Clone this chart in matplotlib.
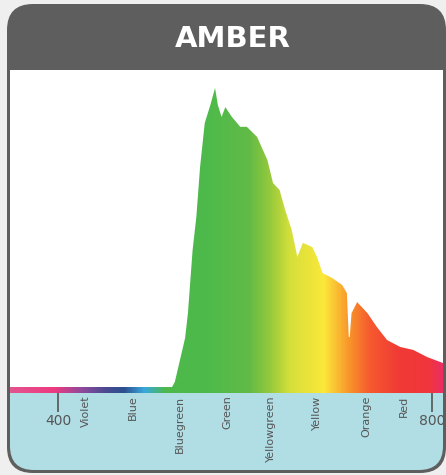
import matplotlib
matplotlib.use('Agg')
import matplotlib.pyplot as plt
import numpy as np
from matplotlib.colors import LinearSegmentedColormap
from matplotlib.patches import FancyBboxPatch, Polygon
import matplotlib.transforms as mtransforms

# spectrum (nm, relative intensity)
wavelength = [349, 522, 525, 536, 539, 544, 548, 552, 557, 563, 568, 571, 575, 579,
              586, 595, 602, 613, 624, 630, 637, 643, 650, 656, 662, 672, 677, 683,
              693, 704, 709, 711, 712, 714, 720, 731, 741, 752, 766, 780, 795, 812]
intensity = [0.0, 0.0, 0.017, 0.164, 0.247, 0.458, 0.569, 0.736, 0.883, 0.943, 1.0,
             0.943, 0.903, 0.936, 0.903, 0.870, 0.870, 0.836, 0.759, 0.682, 0.659,
             0.592, 0.525, 0.435, 0.482, 0.468, 0.435, 0.381, 0.365, 0.341, 0.314,
             0.167, 0.167, 0.247, 0.284, 0.247, 0.201, 0.157, 0.134, 0.124, 0.100, 0.080]

tick_values = [400, 800]
color_names = ['Violet', 'Blue', 'Bluegreen', 'Green', 'Yellowgreen', 'Yellow', 'Orange', 'Red']
color_name_nm = [430, 480, 530, 581, 628, 677, 730, 770]
title = 'AMBER'

# wavelength -> colour stops for the gradient
stop_nm = [348.7, 395, 425, 450, 470, 492, 515, 560, 605, 627, 648, 685, 712, 734, 766, 798, 811.8]
stop_col = ['#e2548f', '#ee3a80', '#8e4a9c', '#4b4a92', '#2c4f8f', '#3aa8dc', '#4cb94a',
            '#4dba4b', '#62bb46', '#95c93c', '#d4df3a', '#fce83a', '#f8962a', '#f65a2f',
            '#f03a35', '#f0363c', '#ec2e62']

xmin, xmax = 348.7, 811.8
pos = [(n - xmin) / (xmax - xmin) for n in stop_nm]
pos[0], pos[-1] = 0.0, 1.0
cmap = LinearSegmentedColormap.from_list('spec', list(zip(pos, stop_col)))

W, H = 446, 475
fig = plt.figure(figsize=(W / 100, H / 100), dpi=100, facecolor='#efefef')

def px_box(x0, y0, x1, y1, color, r, z):
    # pixel box measured from top-left
    p = FancyBboxPatch((x0 / 100, (H - y1) / 100), (x1 - x0) / 100, (y1 - y0) / 100,
                       boxstyle='round,pad=0,rounding_size=%f' % (r / 100),
                       transform=fig.dpi_scale_trans, facecolor=color,
                       edgecolor='none', zorder=z)
    fig.patches.append(p)

px_box(7, 4, 446, 473, '#5e5e5e', 26, -3)
px_box(10, 100, 443, 470, '#b1dde4', 24, -2)

fig.text(233 / W, 1 - 39 / H, title, color='white', fontsize=21, fontweight='bold',
         ha='center', va='center')

ax = fig.add_axes([10 / W, (H - 393) / H, 433 / W, 323 / H])
ax.set_facecolor('white')
ax.set_xlim(xmin, xmax)
ax.set_ylim(-0.02, 1.06)
for s in ax.spines.values():
    s.set_visible(False)
ax.set_yticks([])

grad = np.linspace(0, 1, 600).reshape(1, -1)
im = ax.imshow(grad, cmap=cmap, aspect='auto', extent=[xmin, xmax, 0, 1.06],
               interpolation='bilinear', zorder=2)
poly = Polygon(np.column_stack([wavelength + [wavelength[-1], wavelength[0]],
                                intensity + [0, 0]]),
               closed=True, facecolor='none', edgecolor='none')
ax.add_patch(poly)
im.set_clip_path(poly)

# coloured strip along the bottom
ax.imshow(grad, cmap=cmap, aspect='auto', extent=[xmin, xmax, -0.02, 0],
          interpolation='bilinear', zorder=2)

ax.set_xticks(tick_values)
ax.set_xticklabels([str(t) for t in tick_values])
ax.tick_params(axis='x', direction='out', length=14, width=1.2, color='#555555',
               labelsize=10, labelcolor='#555555', pad=1)

trans = mtransforms.blended_transform_factory(ax.transData, ax.transAxes)
for name, nm in zip(color_names, color_name_nm):
    ax.text(nm, -0.008, name, transform=trans, rotation=90, ha='center', va='top',
            fontsize=8, color='#555555')

fig.savefig('out.png', dpi=100, facecolor=fig.get_facecolor())
